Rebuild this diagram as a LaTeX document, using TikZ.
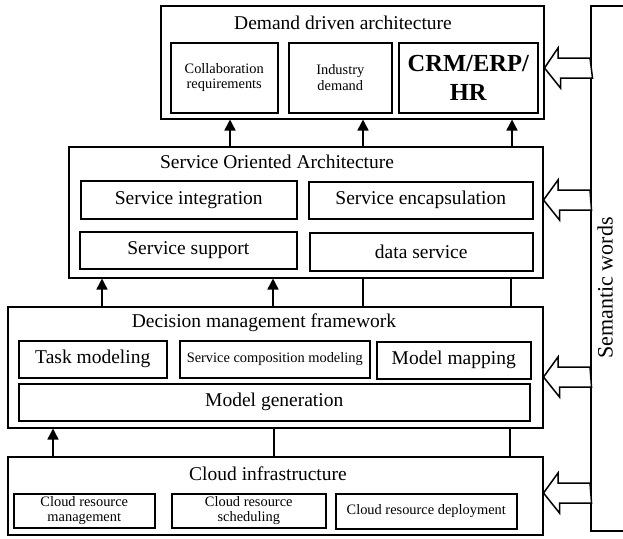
\documentclass[tikz,border=0pt]{standalone}
\usepackage{fontspec}
\setmainfont{Liberation Serif}
\usetikzlibrary{arrows.meta}

\tikzset{
  box/.style={draw, line width=1.5pt, anchor=north west, inner sep=0pt, align=center},
  big/.style={font=\fontsize{19.5}{22}\selectfont},
  small/.style={font=\fontsize{14.4}{15.5}\selectfont},
  heading/.style={font=\fontsize{19.5}{22}\selectfont, inner sep=0pt},
  up/.style={line width=1.5pt, -{Triangle[length=11pt,width=11pt]}},
  link/.style={line width=1.5pt},
  hollow/.style={draw, line width=1.5pt, fill=white, line join=miter}
}

\begin{document}
\begin{tikzpicture}[x=1pt, y=-1pt]

      \useasboundingbox (0,0) rectangle (623,538);

      % demand layer
      \node[box, minimum width=383, minimum height=113] (dda) at (160,5) {};
      \node[heading] (ddat) at (343,23) {Demand driven architecture};
      \node[box, small, minimum width=107, minimum height=70] (collab) at (170,42) {Collaboration\\requirements};
      \node[box, small, minimum width=103, minimum height=70] (industry) at (288,42) {Industry\\demand};
      \node[box, minimum width=139, minimum height=70, font=\bfseries\fontsize{24.5}{29}\selectfont] (crm) at (398,42) {CRM/ERP/\\HR};

      % service layer
      \node[box, minimum width=474, minimum height=131] (soa) at (68,146) {};
      \node[heading] (soat) at (277,162) {Service Oriented Architecture};
      \node[box, big, minimum width=216, minimum height=38] (integ) at (80,180) {Service integration};
      \node[box, big, minimum width=224, minimum height=37] (encap) at (308,181) {Service encapsulation};
      \node[box, big, minimum width=217, minimum height=37] (support) at (79,231) {Service support};
      \node[box, big, minimum width=223, minimum height=38] (data) at (309,232) {data service};

      % decision layer
      \node[box, minimum width=535, minimum height=121] (dmf) at (7,306) {};
      \node[heading] (dmft) at (264,323) {Decision management framework};
      \node[box, big, minimum width=148, minimum height=37] (task) at (18,340) {Task modeling};
      \node[box, small, minimum width=190, minimum height=37] (compo) at (179,340) {Service composition modeling};
      \node[box, big, minimum width=154, minimum height=37] (mapping) at (376,341) {Model mapping};
      \node[box, big, minimum width=511, minimum height=37] (gen) at (18,383) {Model generation};

      % cloud layer
      \node[box, minimum width=535, minimum height=78] (ci) at (7,456) {};
      \node[heading] (cit) at (268,474) {Cloud infrastructure};
      \node[box, small, minimum width=141, minimum height=34] (mgmt) at (13,493) {Cloud resource\\management};
      \node[box, small, minimum width=154, minimum height=34] (sched) at (171,493) {Cloud resource\\scheduling};
      \node[box, small, minimum width=181, minimum height=35] (deploy) at (335,493) {Cloud resource deployment};

      % semantic words
      \node[box, minimum width=50, minimum height=525] (sem) at (590,5) {};
      \node[rotate=90, font=\fontsize{22}{24}\selectfont] (semt) at (605,288) {Semantic words};

      \foreach \x in {230,363,512}
        \draw[up] (soa.north -| \x,0) -- (dda.south -| \x,0);
      \foreach \x in {102,273}
        \draw[up] (dmf.north -| \x,0) -- (soa.south -| \x,0);
      \foreach \x in {363,511}
        \draw[link] (dmf.north -| \x,0) -- (soa.south -| \x,0);
      \draw[up] (ci.north -| 53,0) -- (dmf.south -| 53,0);
      \foreach \x in {274,510}
        \draw[link] (ci.north -| \x,0) -- (dmf.south -| \x,0);

      \foreach \b/\y in {dda/68, soa/200, dmf/377, ci/493}
        \draw[hollow] (sem.west |- 0,\y) ++(0,-10) -- ++(-32,0) -- ++(0,-10) -- (\b.east |- 0,\y)
          -- ++(16,20) -- ++(0,-10) -- ++(32,0) -- cycle;

    \end{tikzpicture}
\end{document}
